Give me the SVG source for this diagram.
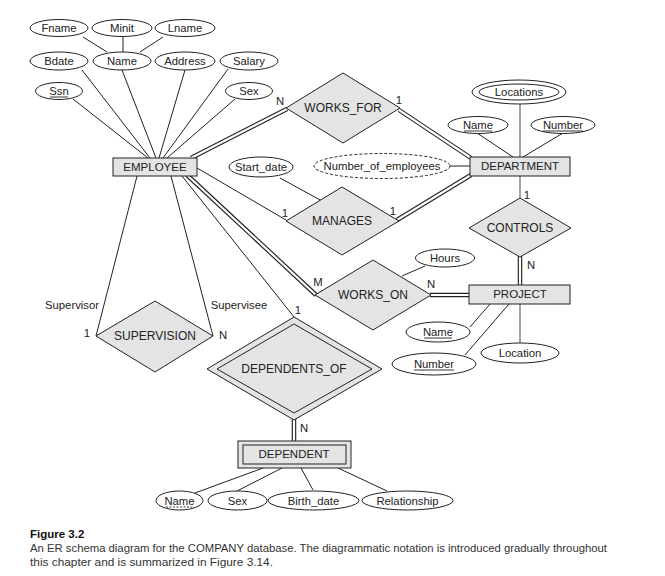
<svg xmlns="http://www.w3.org/2000/svg" width="665" height="576" viewBox="0 0 665 576">
<style>
text{font-family:"Liberation Sans",Arial,sans-serif;font-size:11.3px;fill:#222;text-anchor:middle}
.et{font-size:11.5px}
.rt{font-size:12px}
.attr{fill:#fff;stroke:#222;stroke-width:1}
.ent{fill:#e4e4e4;stroke:#222;stroke-width:1}
.rel{fill:#e4e4e4;stroke:#222;stroke-width:1}
.ln{stroke:#222;stroke-width:1;fill:none}
.gl{stroke:#666;stroke-width:1.2;fill:none}
.dbo{stroke:#222;stroke-width:4.5;fill:none}
.dbi{stroke:#fff;stroke-width:2.2;fill:none}
.ul{stroke:#222;stroke-width:0.9}
.cap{text-anchor:start;fill:#333;font-size:11px}
</style>
<rect width="665" height="576" fill="#fff"/>
<g id="connectors">
<line class="ln" x1="83" y1="37" x2="107" y2="52"/>
<line class="ln" x1="123" y1="36" x2="123" y2="53"/>
<line class="ln" x1="163" y1="37" x2="140" y2="52"/>
<line class="ln" x1="82" y1="70" x2="150" y2="158"/>
<line class="ln" x1="122" y1="70" x2="156" y2="158"/>
<line class="ln" x1="185" y1="70" x2="159" y2="158"/>
<line class="ln" x1="228" y1="69" x2="163" y2="158"/>
<line class="ln" x1="73" y1="99" x2="148" y2="158"/>
<line class="ln" x1="235" y1="99" x2="167" y2="158"/>
<line class="dbo" x1="191" y1="158" x2="287" y2="109"/>
<line class="dbi" x1="191" y1="158" x2="287" y2="109"/>
<line class="dbo" x1="399" y1="110" x2="471" y2="158"/>
<line class="dbi" x1="399" y1="110" x2="471" y2="158"/>
<line class="ln" x1="197" y1="168" x2="286" y2="220"/>
<line class="ln" x1="280" y1="178" x2="322" y2="201"/>
<line class="dbo" x1="397" y1="220" x2="471" y2="175"/>
<line class="dbi" x1="397" y1="220" x2="471" y2="175"/>
<line class="ln" x1="450" y1="166" x2="470" y2="166"/>
<line class="gl" x1="520" y1="104" x2="520" y2="198"/>
<line class="ln" x1="477" y1="133" x2="513" y2="157"/>
<line class="ln" x1="563" y1="133" x2="523" y2="157"/>
<line class="dbo" x1="520" y1="256" x2="520" y2="286"/>
<line class="dbi" x1="520" y1="256" x2="520" y2="286"/>
<line class="dbo" x1="187" y1="175" x2="316" y2="295"/>
<line class="dbi" x1="187" y1="175" x2="316" y2="295"/>
<line class="dbo" x1="430" y1="295" x2="470" y2="295"/>
<line class="dbi" x1="430" y1="295" x2="470" y2="295"/>
<line class="ln" x1="402" y1="276" x2="425" y2="266"/>
<line class="ln" x1="470" y1="327" x2="490" y2="304"/>
<line class="ln" x1="465" y1="355" x2="509" y2="304"/>
<line class="gl" x1="520" y1="304" x2="520" y2="343"/>
<line class="ln" x1="137" y1="176" x2="96" y2="336"/>
<line class="ln" x1="171" y1="176" x2="213" y2="336"/>
<line class="ln" x1="182" y1="176" x2="294" y2="317"/>
<line class="dbo" x1="294" y1="418" x2="294" y2="442"/>
<line class="dbi" x1="294" y1="418" x2="294" y2="442"/>
<line class="ln" x1="195" y1="493" x2="263" y2="468"/>
<line class="ln" x1="237" y1="491" x2="282" y2="468"/>
<line class="ln" x1="313" y1="490" x2="301" y2="468"/>
<line class="ln" x1="387" y1="491" x2="338" y2="468"/>
</g>
<g id="cardinalities">
<text x="280" y="105">N</text>
<text x="399" y="104">1</text>
<text x="285" y="217">1</text>
<text x="393" y="215">1</text>
<text x="527" y="199">1</text>
<text x="531" y="269">N</text>
<text x="318" y="286">M</text>
<text x="431" y="288">N</text>
<text x="298" y="314">1</text>
<text x="304" y="432">N</text>
<text x="87" y="337">1</text>
<text x="223" y="339">N</text>
<text x="72" y="309">Supervisor</text>
<text x="239" y="309">Supervisee</text>
</g>
<g id="Fname"><ellipse class="attr" cx="59" cy="28" rx="29" ry="8.5"/><text x="59" y="32">Fname</text></g>
<g id="Minit"><ellipse class="attr" cx="122" cy="28" rx="30" ry="8.5"/><text x="122" y="32">Minit</text></g>
<g id="Lname"><ellipse class="attr" cx="185" cy="28" rx="30" ry="8.5"/><text x="185" y="32">Lname</text></g>
<g id="Bdate"><ellipse class="attr" cx="59" cy="61" rx="29" ry="9"/><text x="59" y="65">Bdate</text></g>
<g id="Name"><ellipse class="attr" cx="122" cy="61" rx="29" ry="9"/><text x="122" y="65">Name</text></g>
<g id="Address"><ellipse class="attr" cx="185" cy="61" rx="30" ry="9"/><text x="185" y="65">Address</text></g>
<g id="Salary"><ellipse class="attr" cx="249" cy="61" rx="29" ry="9"/><text x="249" y="65">Salary</text></g>
<g id="Ssn"><ellipse class="attr" cx="59" cy="91" rx="23.5" ry="8.5"/><text x="59" y="95">Ssn</text><line class="ul" x1="50" y1="97" x2="68" y2="97"/></g>
<g id="Sex"><ellipse class="attr" cx="249" cy="91" rx="23.5" ry="8.5"/><text x="249" y="95">Sex</text></g>
<g id="EMPLOYEE"><rect class="ent" x="113" y="158" width="84" height="18"/><text class="et" x="155" y="171">EMPLOYEE</text></g>
<g id="WORKS_FOR"><polygon class="rel" points="343,73 400,108 343,143 286,108"/><text class="rt" x="343" y="112">WORKS_FOR</text></g>
<g id="Locations"><ellipse class="attr" cx="519" cy="92" rx="47" ry="12"/><ellipse class="attr" cx="519" cy="92" rx="40" ry="8"/><text x="519" y="96">Locations</text></g>
<g id="Dept_Name"><ellipse class="attr" cx="478" cy="125" rx="30" ry="8.5"/><text x="478" y="129">Name</text><line class="ul" x1="464" y1="131" x2="492" y2="131"/></g>
<g id="Dept_Number"><ellipse class="attr" cx="563" cy="125" rx="32" ry="8.5"/><text x="563" y="129">Number</text><line class="ul" x1="543" y1="131" x2="583" y2="131"/></g>
<g id="DEPARTMENT"><rect class="ent" x="470" y="157" width="100" height="19"/><text class="et" x="520" y="170">DEPARTMENT</text></g>
<g id="Number_of_employees"><ellipse cx="382" cy="166" rx="68" ry="12.5" fill="#fff" stroke="#222" stroke-width="1" stroke-dasharray="3,2"/><text x="382" y="170">Number_of_employees</text></g>
<g id="Start_date"><ellipse class="attr" cx="261" cy="167" rx="32" ry="10"/><text x="261" y="171">Start_date</text></g>
<g id="MANAGES"><polygon class="rel" points="342,187 399,221 342,255 286,221"/><text class="rt" x="342" y="225">MANAGES</text></g>
<g id="CONTROLS"><polygon class="rel" points="520,198 571,228 520,257 469,228"/><text class="rt" x="520" y="232">CONTROLS</text></g>
<g id="Hours"><ellipse class="attr" cx="445" cy="258" rx="29.5" ry="9"/><text x="445" y="262">Hours</text></g>
<g id="WORKS_ON"><polygon class="rel" points="373,260 431,295 373,330 315,295"/><text class="rt" x="373" y="299">WORKS_ON</text></g>
<g id="PROJECT"><rect class="ent" x="469" y="285" width="101" height="19"/><text class="et" x="520" y="298">PROJECT</text></g>
<g id="Proj_Name"><ellipse class="attr" cx="438" cy="332" rx="32" ry="10"/><text x="438" y="336">Name</text><line class="ul" x1="424" y1="338" x2="452" y2="338"/></g>
<g id="Proj_Number"><ellipse class="attr" cx="434" cy="364" rx="42" ry="11"/><text x="434" y="368">Number</text><line class="ul" x1="414" y1="370" x2="454" y2="370"/></g>
<g id="Location"><ellipse class="attr" cx="520" cy="353" rx="39" ry="10"/><text x="520" y="357">Location</text></g>
<g id="SUPERVISION"><polygon class="rel" points="155,301 213,336 155,372 96,336"/><text class="rt" x="155" y="340">SUPERVISION</text></g>
<g id="DEPENDENTS_OF"><polygon class="rel" points="294,317 382,369 294,420 207,369"/><polygon class="rel" points="294,324 372,369 294,413 217,369"/><text class="rt" x="294" y="373">DEPENDENTS_OF</text></g>
<g id="DEPENDENT"><rect class="ent" x="238" y="441" width="113" height="27"/><rect class="ent" x="243" y="445" width="103" height="19"/><text class="et" x="294" y="458">DEPENDENT</text></g>
<g id="Dep_Name"><ellipse class="attr" cx="179.5" cy="500.5" rx="23.5" ry="9.5"/><text x="179.5" y="504.5">Name</text><line class="ul" x1="166" y1="507" x2="193" y2="507" stroke-dasharray="2,1.5"/></g>
<g id="Dep_Sex"><ellipse class="attr" cx="237.5" cy="500.5" rx="29.5" ry="9.5"/><text x="237.5" y="504.5">Sex</text></g>
<g id="Birth_date"><ellipse class="attr" cx="313.5" cy="500.5" rx="45.5" ry="9.5"/><text x="313.5" y="504.5">Birth_date</text></g>
<g id="Relationship"><ellipse class="attr" cx="407.5" cy="500.5" rx="45.5" ry="9.5"/><text x="407.5" y="504.5">Relationship</text></g>
<g id="caption">
<text class="cap" x="30" y="538" style="font-weight:bold;fill:#111;font-size:11.5px">Figure 3.2</text>
<text class="cap" x="30" y="552" textLength="577" lengthAdjust="spacingAndGlyphs">An ER schema diagram for the COMPANY database. The diagrammatic notation is introduced gradually throughout</text>
<text class="cap" x="30" y="566" textLength="243" lengthAdjust="spacingAndGlyphs">this chapter and is summarized in Figure 3.14.</text>
</g>
</svg>
